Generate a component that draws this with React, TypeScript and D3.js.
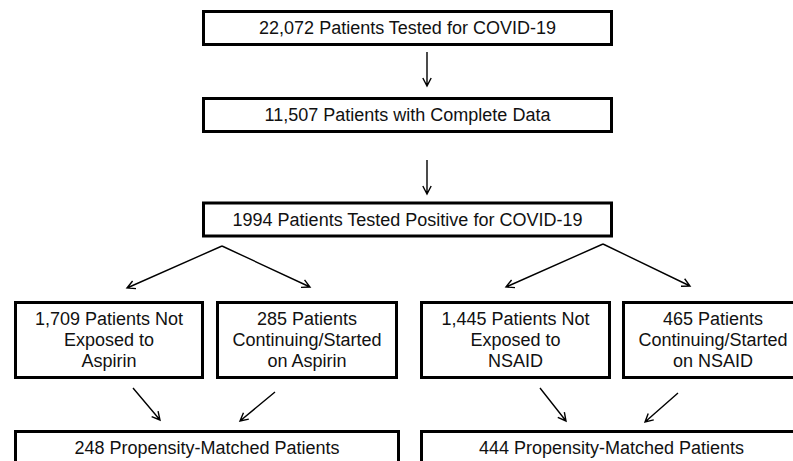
import { useRef, useEffect } from "react";
import * as d3 from "d3";

// Flow data
const mainSteps = [
  "22,072 Patients Tested for COVID-19",
  "11,507 Patients with Complete Data",
  "1994 Patients Tested Positive for COVID-19",
];
const drugs = ["Aspirin", "NSAID"];
const notExposed = [1709, 1445];
const exposed = [285, 465];
const matched = [248, 444];

type Box = { x: number; y: number; w: number; h: number; lines: string[] };
type Arrow = [number, number, number, number];

const W = 793;
const H = 461;

export default function App() {
  const ref = useRef<SVGSVGElement>(null);

  useEffect(() => {
    if (!ref.current) return;
    const svg = d3.select(ref.current);
    svg.selectAll("*").remove();

    const fmt = d3.format(",");

    // Layout (px)
    const mainX = 203.5;
    const mainW = 408;
    const mainY = [11.5, 98.5, 203];
    const boxH = 33;
    const groupY = 302.5;
    const groupH = 75;
    const matchY = 431.5;
    const subX = [
      [15.5, 217.5],
      [421.5, 623.5],
    ];
    const subW = [
      [187, 179],
      [188, 179],
    ];
    const matchX = [15.5, 421.5];
    const matchW = [383, 380];

    const boxes: Box[] = [];
    mainSteps.forEach((s, i) =>
      boxes.push({ x: mainX, y: mainY[i], w: mainW, h: boxH, lines: [s] }),
    );
    drugs.forEach((drug, g) => {
      boxes.push({
        x: subX[g][0],
        y: groupY,
        w: subW[g][0],
        h: groupH,
        lines: [`${fmt(notExposed[g])} Patients Not`, "Exposed to", drug],
      });
      boxes.push({
        x: subX[g][1],
        y: groupY,
        w: subW[g][1],
        h: groupH,
        lines: [`${exposed[g]} Patients`, "Continuing/Started", `on ${drug}`],
      });
      boxes.push({
        x: matchX[g],
        y: matchY,
        w: matchW[g],
        h: boxH,
        lines: [`${matched[g]} Propensity-Matched Patients`],
      });
    });

    const arrows: Arrow[] = [
      [427, 52, 427, 86],
      [427, 160, 427, 194],
      [222, 246, 127, 288],
      [222, 246, 310, 287],
      [603, 244, 506, 287],
      [603, 244, 690, 286],
      [133, 388, 160, 420],
      [275, 392, 240, 421],
      [540, 388, 566, 421],
      [678, 393, 645, 422],
    ];

    const g = svg.append("g");

    const bg = g
      .selectAll("g.box")
      .data(boxes)
      .join("g")
      .attr("class", "box");

    bg.append("rect")
      .attr("x", (d) => d.x)
      .attr("y", (d) => d.y)
      .attr("width", (d) => d.w)
      .attr("height", (d) => d.h)
      .attr("fill", "#fff")
      .attr("stroke", "#000")
      .attr("stroke-width", 3);

    const lineH = 21;
    bg.each(function (d) {
      const n = d.lines.length;
      const cy = d.y + d.h / 2;
      d3.select(this)
        .selectAll("text")
        .data(d.lines)
        .join("text")
        .attr("x", d.x + d.w / 2)
        .attr("y", (_, i) => cy + (i - (n - 1) / 2) * lineH)
        .attr("dy", "0.35em")
        .attr("text-anchor", "middle")
        .attr("font-family", "'Liberation Sans', Arial, sans-serif")
        .attr("font-size", 18)
        .attr("fill", "#111")
        .text((t) => t);
    });

    // Arrows with open chevron heads
    const head = 9;
    const spread = Math.PI / 6.5;
    const path = (a: Arrow) => {
      const [x1, y1, x2, y2] = a;
      const ang = Math.atan2(y2 - y1, x2 - x1);
      const p = d3.path();
      p.moveTo(x1, y1);
      p.lineTo(x2, y2);
      p.moveTo(
        x2 - head * Math.cos(ang - spread),
        y2 - head * Math.sin(ang - spread),
      );
      p.lineTo(x2, y2);
      p.lineTo(
        x2 - head * Math.cos(ang + spread),
        y2 - head * Math.sin(ang + spread),
      );
      return p.toString();
    };

    g.selectAll("path.arrow")
      .data(arrows)
      .join("path")
      .attr("class", "arrow")
      .attr("d", path)
      .attr("fill", "none")
      .attr("stroke", "#000")
      .attr("stroke-width", 1.4);
  }, []);

  return (
    <svg
      ref={ref}
      width={W}
      height={H}
      style={{ position: "fixed", left: 0, top: 0, background: "#fff" }}
    />
  );
}
